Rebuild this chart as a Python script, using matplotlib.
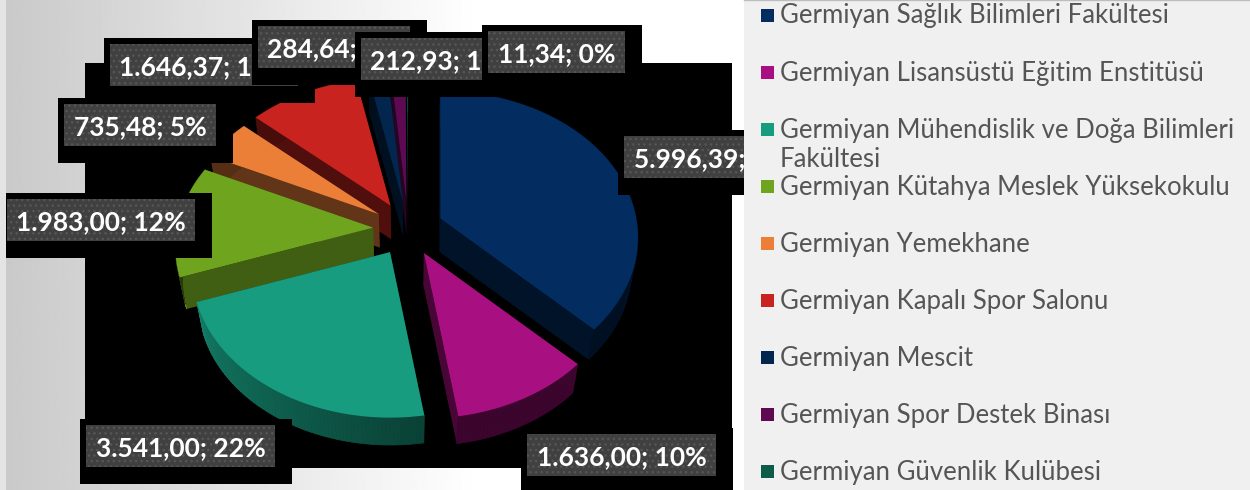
import numpy as np
import matplotlib
matplotlib.use("Agg")
import matplotlib.pyplot as plt
from matplotlib.patches import Polygon, Rectangle
from matplotlib.collections import PolyCollection

# data
names = ["Germiyan Sağlık Bilimleri Fakültesi", "Germiyan Lisansüstü Eğitim Enstitüsü",
         "Germiyan Mühendislik ve Doğa Bilimleri\nFakültesi", "Germiyan Kütahya Meslek Yüksekokulu",
         "Germiyan Yemekhane", "Germiyan Kapalı Spor Salonu", "Germiyan Mescit",
         "Germiyan Spor Destek Binası", "Germiyan Güvenlik Kulübesi"]
values = [5996.39, 1636.00, 3541.00, 1983.00, 735.48, 1646.37, 284.64, 212.93, 11.34]
value_labels = ["5.996,39; 37%", "1.636,00; 10%", "3.541,00; 22%", "1.983,00; 12%", "735,48; 5%",
                "1.646,37; 10%", "284,64; 2%", "212,93; 1%", "11,34; 0%"]
colors = ["#032d60", "#a80f80", "#189c80", "#6fa41f", "#ec7f38", "#c9231f", "#03264f", "#5e0a52", "#0d5c4a"]
face_dark = [0.42, 0.42, 0.42, 0.58, 0.42, 0.40, 0.42, 0.42, 0.42]

# layout, pixel coordinates of the picture
label_boxes = [(624, 136, 189), (527, 434, 189), (86, 425, 189), (7, 199, 188), (64, 104, 152),
               (110, 44, 188), (258, 26, 152), (361, 38, 152), (488, 31, 137)]
box_h = 42
cx, cy = 408, 229
rx, ry, persp = 196, 144, 0.13
ex, ey = 35, 27
depth = 33
draw_order = [8, 7, 6, 5, 4, 3, 0, 2, 1]

plt.rcParams["font.family"] = ["Lato", "DejaVu Sans"]

fig = plt.figure(figsize=(12.5, 4.9), dpi=100)
ax = fig.add_axes([0, 0, 1, 1])
ax.set_xlim(0, 1250)
ax.set_ylim(490, 0)
ax.axis("off")

# grey background going to white
grad = np.linspace(0.79, 1.0, 256).reshape(1, -1)
ax.imshow(grad, extent=(5, 480, 490, 0), cmap="gray", vmin=0, vmax=1, aspect="auto", zorder=0)
ax.set_xlim(0, 1250)
ax.set_ylim(490, 0)
ax.add_patch(Rectangle((85, 63), 647, 405, color="black", lw=0, zorder=1))


def project(theta):
    u, v = np.sin(theta), -np.cos(theta)
    s = 1 / (1 - persp * v)
    return np.column_stack([rx * u * s, ry * v * s])


def drop(pts):
    # the underside of the slice, a bit smaller and lower
    c = np.array([cx, cy])
    return c + (pts - c) * 0.97 + np.array([0, depth])


def darker(col, f):
    return tuple(np.array(matplotlib.colors.to_rgb(col)) * f)


def wall_shade(deg):
    if deg < 171 or deg > 252:
        return 0.36
    return 0.42 + 0.38 * (deg - 171) / 80


total = sum(values)
ends = np.cumsum(values) / total * 2 * np.pi
starts = np.concatenate([[0], ends[:-1]])

z = 2
for i in draw_order:
    t = np.linspace(starts[i], ends[i], max(int(np.degrees(ends[i] - starts[i])), 2) + 1)
    mid = (starts[i] + ends[i]) / 2
    tip = np.array([cx + ex * np.sin(mid), cy - ey * np.cos(mid)])
    arc = tip + project(t)
    arc_low = drop(arc)
    tip_low = drop(tip[None, :])[0]

    # radial faces, then outer wall, then the top
    for end in (arc[0], arc[-1]):
        face = [tip, end, drop(end[None, :])[0], tip_low]
        ax.add_patch(Polygon(face, closed=True, fc=darker(colors[i], face_dark[i]), ec="none", zorder=z))
    quads, shades = [], []
    for k in range(len(t) - 1):
        quads.append([arc[k], arc[k + 1], arc_low[k + 1], arc_low[k]])
        shades.append(darker(colors[i], wall_shade(np.degrees(t[k]))))
    ax.add_collection(PolyCollection(quads, facecolors=shades, edgecolors=shades, linewidths=0.5, zorder=z))
    ax.add_patch(Polygon(np.vstack([tip, arc]), closed=True, fc=colors[i], ec="none", zorder=z + 0.5))
    z += 1

# data labels, each one hides the one before it
for lab, (bx, by, bw) in zip(value_labels, label_boxes):
    ax.add_patch(Rectangle((bx - 6, by - 6), bw + 23, box_h + 23, fc="black", ec="none", zorder=z))
    ax.add_patch(Rectangle((bx, by), bw, box_h, fc="#404040", ec="#565656", hatch="...", lw=0, zorder=z))
    ax.text(bx + bw / 2, by + box_h - 11, lab, color="white", fontsize=19, fontweight="bold",
            ha="center", va="baseline", zorder=z)
    z += 1

# pale strip down the left edge, over the shadows
ax.add_patch(Rectangle((0, 0), 6, 490, color="#e4e4e4", lw=0, zorder=z))

# legend panel
ax.add_patch(Rectangle((744, 1), 506, 489, fc="#f0f0f0", ec="none", zorder=z))
ax.plot([744, 1250], [0.5, 0.5], color="#bdbdbd", lw=1, zorder=z)
for i, name in enumerate(names):
    yc = 15.5 + 57 * i
    ax.add_patch(Rectangle((761, yc - 6.5), 13, 13, fc=colors[i], ec="none", zorder=z + 1))
    ax.text(780, yc + 8, name.split("\n")[0], color="#555555", fontsize=18.5, ha="left", va="baseline", zorder=z + 1)
    if "\n" in name:
        ax.text(780, yc + 37.5, name.split("\n")[1], color="#555555", fontsize=18.5, ha="left", va="baseline", zorder=z + 1)

fig.savefig("out.png", dpi=100)
